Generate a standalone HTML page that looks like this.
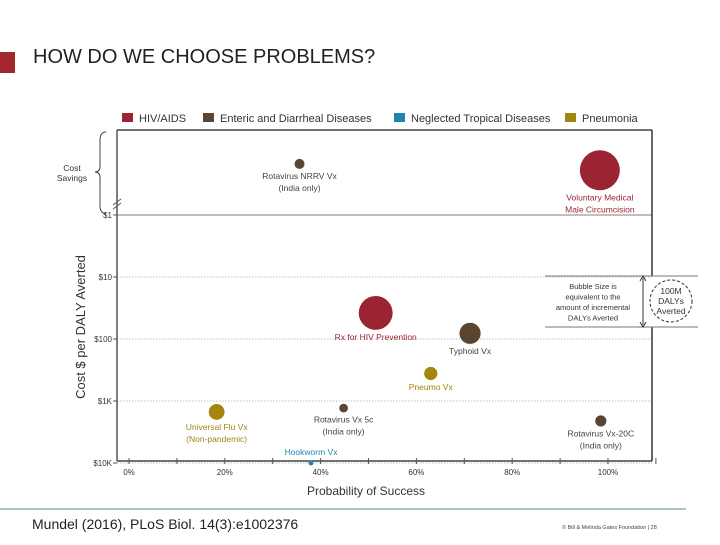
<!DOCTYPE html>
<html><head><meta charset="utf-8"><style>
body{margin:0;background:#fff;width:720px;height:540px;overflow:hidden;font-family:"Liberation Sans",sans-serif}
</style></head><body>
<svg width="720" height="540" xmlns="http://www.w3.org/2000/svg" font-family="Liberation Sans, sans-serif">
<rect x="0" y="52" width="15" height="21" fill="#a3282d"/>
<text x="33" y="63" font-size="20" fill="#222">HOW DO WE CHOOSE PROBLEMS?</text>
<g id="legend"></g>
<g id="chart"></g>
<line x1="0" y1="509" x2="686" y2="509" stroke="#7d9aa8" stroke-width="1.2"/>
<text x="32" y="529" font-size="14" fill="#222">Mundel (2016), PLoS Biol. 14(3):e1002376</text>
<text x="562" y="529" font-size="5.5" fill="#444">© Bill &amp; Melinda Gates Foundation   |   28</text>
</svg>
<script>
const categories=["HIV/AIDS","Enteric and Diarrheal Diseases","Neglected Tropical Diseases","Pneumonia"];
const catColors=["#9b2433","#5a4630","#1f87ae","#a3850f"];
const names=[["Rotavirus NRRV Vx","(India only)"],["Voluntary Medical","Male Circumcision"],["Rx for HIV Prevention"],["Typhoid Vx"],["Pneumo Vx"],["Universal Flu Vx","(Non-pandemic)"],["Rotavirus Vx 5c","(India only)"],["Rotavirus Vx-20C","(India only)"],["Hookworm Vx"]];
const cat=[1,0,0,1,3,3,1,1,2];
const prob=[35.6,98.3,51.5,71.2,63,18.3,44.8,98.5,38];
const cost=[0.15,0.19,38,81,360,1500,1300,2100,10000];
const dalys=[4,64,46,18,7,10,3,5,1];
const xTicks=[0,20,40,60,80,100];
const yTicks=[1,10,100,1000,10000];
const yTickLabels=["$1","$10","$100","$1K","$10K"];

const NS="http://www.w3.org/2000/svg";
function mk(tag,attrs,parent,txt){const e=document.createElementNS(NS,tag);for(const k in attrs)e.setAttribute(k,attrs[k]);if(txt!==undefined)e.textContent=txt;parent.appendChild(e);return e;}
const X=p=>129+p*4.79;
const Y=c=>215+62*Math.log10(c);
const R=d=>20*Math.sqrt(d/64);
const g=document.getElementById('chart');
const lg=document.getElementById('legend');

// legend
const lgX=[122,203,394,565];
categories.forEach((c,i)=>{
 const r=mk('rect',{x:lgX[i],y:113,width:11,height:9,fill:catColors[i]},lg);
 
 
 const t=mk('text',{x:lgX[i]+17,y:122,'font-size':11,fill:'#333'},lg,c);
 
 
});

// gridlines and y ticks
yTicks.forEach((v,i)=>{
 const y=Y(v);
 const l=mk('line',{x1:117,x2:652,y1:y,y2:y,stroke:i==0?'#999':'#aaa','stroke-width':i==0?1.2:0.8,'stroke-dasharray':i==0?'':'1.5,1.5'},g);
 
 
 mk('line',{x1:113,x2:117,y1:y,y2:y,stroke:'#555'},g);
 const t=mk('text',{x:112,y:y+3,'font-size':8,fill:'#333','text-anchor':'end'},g,yTickLabels[i]);
 
 
});
// axes
mk('line',{x1:117,x2:652,y1:130,y2:130,stroke:'#444','stroke-width':1.5},g);
mk('line',{x1:117,x2:117,y1:130,y2:461,stroke:'#555','stroke-width':1.5},g);
mk('line',{x1:117,x2:652,y1:461,y2:461,stroke:'#444','stroke-width':1.5},g);
mk('line',{x1:652,x2:652,y1:130,y2:276,stroke:'#333','stroke-width':1.5},g);
mk('line',{x1:652,x2:652,y1:327,y2:461,stroke:'#333','stroke-width':1.5},g);
// axis break
mk('line',{x1:113,x2:121,y1:205,y2:199,stroke:'#555'},g);
mk('line',{x1:113,x2:121,y1:209,y2:203,stroke:'#555'},g);
// x ticks
for(let p=0;p<=110;p+=10){mk('line',{x1:X(p),x2:X(p),y1:458,y2:464,stroke:'#555'},g);}
xTicks.forEach(p=>{const t=mk('text',{x:X(p),y:475,'font-size':8,fill:'#333','text-anchor':'middle'},g,p+'%');
 });
// axis titles
const yt=mk('text',{x:0,y:0,'font-size':13,fill:'#333','text-anchor':'middle',transform:'translate(85,327) rotate(-90)'},g,'Cost $ per DALY Averted');

const xt=mk('text',{x:366,y:495,'font-size':12,fill:'#333','text-anchor':'middle'},g,'Probability of Success');

// cost savings bracket
mk('path',{d:'M106,132 Q100,132 100,140 L100,166 Q100,172 95,172 Q100,172 100,178 L100,206 Q100,213 106,214',fill:'none',stroke:'#444'},g);
mk('text',{x:72,y:171,'font-size':8.5,fill:'#333','text-anchor':'middle'},g,'Cost');
mk('text',{x:72,y:181,'font-size':8.5,fill:'#333','text-anchor':'middle'},g,'Savings');

// bubbles
prob.forEach((p,i)=>{
 const cx=X(p),cy=Y(cost[i]),r=R(dalys[i]);
 const c=mk('circle',{cx:cx,cy:cy,r:r,fill:catColors[cat[i]]},g);
 
 
 const col=(cat[i]==1)?'#444':catColors[cat[i]];
 names[i].forEach((ln,j)=>{
  const ty=cat[i]==2? cy-8 : cy+r+10+j*12;
  const t=mk('text',{x:cx+(cat[i]==2?0:0),y:ty,'font-size':8.5,fill:col,'text-anchor':'middle'},g,ln);
  
  
 });
});

// size legend
const sl=mk('g',{},g);
mk('line',{x1:545,x2:698,y1:276,y2:276,stroke:'#777'},sl);
mk('line',{x1:545,x2:698,y1:327,y2:327,stroke:'#777'},sl);
mk('line',{x1:643,x2:643,y1:278,y2:325,stroke:'#333'},sl);
mk('path',{d:'M640,281 L643,276 L646,281 M640,322 L643,327 L646,322',fill:'none',stroke:'#333'},sl);
["Bubble Size is","equivalent to the","amount of incremental","DALYs Averted"].forEach((s,j)=>mk('text',{x:593,y:289+j*10.5,'font-size':7.5,fill:'#333','text-anchor':'middle'},sl,s));
mk('circle',{cx:671,cy:301,r:21,fill:'none',stroke:'#333','stroke-dasharray':'3,2'},sl);
["100M","DALYs","Averted"].forEach((s,j)=>mk('text',{x:671,y:294+j*10,'font-size':8.5,fill:'#333','text-anchor':'middle'},sl,s));
</script>
</body></html>
